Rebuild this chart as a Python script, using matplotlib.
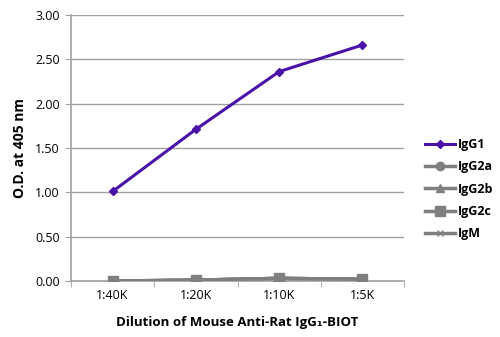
import matplotlib
matplotlib.use('Agg')
import matplotlib.pyplot as plt
import numpy as np

plt.rcParams['font.family'] = ['Open Sans', 'DejaVu Sans']

dilutions = ['1:40K', '1:20K', '1:10K', '1:5K']
igg1 = [1.01, 1.71, 2.36, 2.66]
igg2a = [0.0, 0.01, 0.03, 0.02]
igg2b = [0.0, 0.01, 0.03, 0.02]
igg2c = [0.0, 0.01, 0.03, 0.02]
igm = [0.0, 0.01, 0.03, 0.02]
yticks = [0.0, 0.5, 1.0, 1.5, 2.0, 2.5, 3.0]

purple = '#4a12a6'
grey = '#7f7f7f'

fig = plt.figure(figsize=(5.0, 3.37), dpi=100)
ax = fig.add_axes([0.142, 0.166, 0.666, 0.79])

x = np.arange(len(dilutions))
ax.plot(x, igm, color=grey, lw=2.5, marker='x', ms=5, label='IgM', zorder=2)
ax.plot(x, igg2a, color=grey, lw=2.5, marker='o', ms=6, label='IgG2a', zorder=2)
ax.plot(x, igg2b, color=grey, lw=2.5, marker='^', ms=6, label='IgG2b', zorder=2)
ax.plot(x, igg2c, color=grey, lw=2.5, marker='s', ms=6.5, label='IgG2c', zorder=3)
ax.plot(x, igg1, color=purple, lw=2.2, marker='D', ms=4.5, label='IgG1', zorder=4)

ax.set_xlim(-0.5, len(dilutions) - 0.5)
ax.set_ylim(0, 3.0)
ax.set_yticks(yticks)
ax.set_yticklabels(['%.2f' % v for v in yticks], fontsize=9)
ax.set_xticks(x)
ax.set_xticklabels(dilutions, fontsize=9)
ax.set_xticks(np.arange(-0.5, len(dilutions)), minor=True)
ax.tick_params(axis='x', which='major', length=0, pad=6)
ax.tick_params(axis='x', which='minor', length=4, color='#a0a0a0', direction='out')
ax.tick_params(axis='y', length=4, color='#a0a0a0', direction='out', pad=4)
ax.grid(axis='y', color='#a0a0a0', lw=1)
ax.set_axisbelow(True)
for s in ['top', 'right']:
    ax.spines[s].set_visible(False)
for s in ['left', 'bottom']:
    ax.spines[s].set_color('#a0a0a0')
    ax.spines[s].set_linewidth(1.2)

ax.set_ylabel('O.D. at 405 nm', fontsize=10, fontweight='bold', labelpad=6)
ax.set_xlabel('Dilution of Mouse Anti-Rat IgG\u2081-BIOT', fontsize=9.5,
              fontweight='bold', labelpad=10)

handles, labels = ax.get_legend_handles_labels()
order = ['IgG1', 'IgG2a', 'IgG2b', 'IgG2c', 'IgM']
hl = dict(zip(labels, handles))
leg = ax.legend([hl[k] for k in order], order, loc='center left',
                bbox_to_anchor=(1.03, 0.345), frameon=False, handlelength=2.4,
                handletextpad=0.2, labelspacing=0.75, prop={'weight': 'bold', 'size': 9})

fig.savefig('out.png', dpi=100)
